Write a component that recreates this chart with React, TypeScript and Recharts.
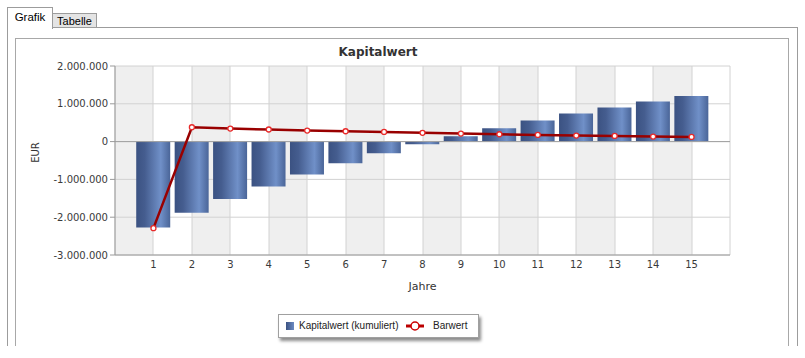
import { ComposedChart, Bar, Line, XAxis, YAxis, CartesianGrid, ReferenceLine } from 'recharts';

const years = [1, 2, 3, 4, 5, 6, 7, 8, 9, 10, 11, 12, 13, 14, 15];
const kapitalwertKumuliert = [
  -2270000, -1880000, -1520000, -1190000, -870000, -575000, -310000, -70000,
  140000, 355000, 557000, 745000, 903000, 1062000, 1205000,
];
const barwert = [
  -2290000, 380000, 345000, 320000, 292000, 274000, 257000, 232000,
  212000, 195000, 177000, 160000, 150000, 133000, 124000,
];
const yTicks = [-3000000, -2000000, -1000000, 0, 1000000, 2000000];
const xDomain = [0, 16];
const gridStops = [0, 1, 2, 3, 4, 5, 6, 7, 8, 9, 10, 11, 12, 13, 14, 15, 16];

const chartData = years.map((year, i) => ({
  year,
  kum: kapitalwertKumuliert[i],
  barwert: barwert[i],
}));

const fmt = (v: number) => {
  const s = Math.abs(v).toString().replace(/\B(?=(\d{3})+(?!\d))/g, '.');
  return v < 0 ? '-' + s : s;
};

const tickFont = { fontFamily: 'DejaVu Sans', fontSize: 10, fill: '#3a3a3a' };

function verticalGrid({ xAxis, offset }: any) {
  const s = xAxis && xAxis.scale;
  return gridStops.map((k) =>
    typeof s === 'function' ? Math.round(s(k)) : Math.round(offset.left + (offset.width * k) / 16)
  );
}

function EurLabel(props: any) {
  const vb = props.viewBox || {};
  const x = vb.x + 20;
  const y = vb.y + vb.height / 2 - 8;
  return (
    <text
      x={x}
      y={y}
      transform={`rotate(-90, ${x}, ${y})`}
      textAnchor="middle"
      dominantBaseline="central"
      style={{ fontFamily: 'DejaVu Sans', fontSize: 10, fill: '#333' }}
    >
      EUR
    </text>
  );
}

function BarwertDot(props: any) {
  const { cx, cy } = props;
  if (cx == null || cy == null) return null;
  return <circle cx={cx} cy={cy} r={2.5} fill="#fff" stroke="#e82a2a" strokeWidth={1.3} />;
}

export default function App() {
  return (
    <div
      style={{
        position: 'absolute',
        left: 0,
        top: 0,
        width: 805,
        height: 358,
        background: '#fff',
        overflow: 'hidden',
        fontFamily: 'Liberation Sans',
      }}
    >
      {/* tab panel */}
      <div
        style={{
          position: 'absolute',
          left: 7,
          top: 27,
          width: 789,
          height: 318,
          borderTop: '1px solid #9c9c9c',
          borderLeft: '1px solid #9c9c9c',
          borderRight: '1px solid #9c9c9c',
        }}
      />
      <div
        style={{
          position: 'absolute',
          left: 7,
          top: 7,
          width: 44,
          height: 21,
          background: '#fff',
          borderTop: '1px solid #9c9c9c',
          borderLeft: '1px solid #9c9c9c',
          borderRight: '1px solid #9c9c9c',
          fontSize: 11.5,
          color: '#000',
          lineHeight: '19px',
          textAlign: 'center',
          zIndex: 2,
        }}
      >
        Grafik
      </div>
      <div
        style={{
          position: 'absolute',
          left: 52,
          top: 13,
          width: 43,
          height: 13,
          background: '#e4e4e4',
          border: '1px solid #9c9c9c',
          borderBottom: 'none',
          fontSize: 11,
          color: '#000',
          lineHeight: '15px',
          textAlign: 'center',
        }}
      >
        Tabelle
      </div>
      <div
        style={{
          position: 'absolute',
          left: 15,
          top: 38,
          width: 772,
          height: 307,
          borderTop: '1px solid #a8a8a8',
          borderLeft: '1px solid #a8a8a8',
          borderRight: '1px solid #a8a8a8',
        }}
      />

      <div
        style={{
          position: 'absolute',
          left: 300,
          top: 45,
          width: 156,
          textAlign: 'center',
          fontFamily: 'DejaVu Sans',
          fontWeight: 'bold',
          fontSize: 12,
          color: '#333',
        }}
      >
        Kapitalwert
      </div>

      <div style={{ position: 'absolute', left: 15, top: 38 }}>
        <ComposedChart
          width={773}
          height={307}
          data={chartData}
          margin={{ top: 28, right: 58, bottom: 0, left: 0 }}
        >
          <defs>
            <linearGradient id="barGrad" x1="0" y1="0" x2="1" y2="0">
              <stop offset="0%" stopColor="#3b5282" />
              <stop offset="25%" stopColor="#455d8f" />
              <stop offset="72%" stopColor="#7090c8" />
              <stop offset="100%" stopColor="#4a6598" />
            </linearGradient>
          </defs>
          <CartesianGrid
            stroke="#d2d2d2"
            verticalFill={['#efefef', '#ffffff']}
            verticalCoordinatesGenerator={verticalGrid}
          />
          <XAxis
            type="number"
            dataKey="year"
            domain={xDomain}
            ticks={years}
            interval={0}
            height={90}
            tickLine={false}
            tickSize={0}
            tickMargin={6}
            axisLine={{ stroke: '#9a9a9a' }}
            tick={tickFont}
            label={{
              value: 'Jahre',
              position: 'insideTop',
              offset: 27,
              style: { fontFamily: 'DejaVu Sans', fontSize: 11, fill: '#333' },
            }}
          />
          <YAxis
            type="number"
            domain={[-3000000, 2000000]}
            ticks={yTicks}
            interval={0}
            width={100}
            tickFormatter={fmt}
            tickSize={5}
            tickMargin={2}
            tickLine={{ stroke: '#9a9a9a' }}
            axisLine={{ stroke: '#9a9a9a' }}
            tick={tickFont}
            label={<EurLabel />}
          />
          <ReferenceLine y={0} stroke="#a0a0a0" />
          <Bar dataKey="kum" barSize={34} fill="url(#barGrad)" isAnimationActive={false} />
          <Line
            dataKey="barwert"
            type="linear"
            stroke="#990000"
            strokeWidth={2.5}
            dot={<BarwertDot />}
            activeDot={false}
            isAnimationActive={false}
          />
        </ComposedChart>
      </div>

      {/* legend */}
      <div
        style={{
          position: 'absolute',
          left: 278,
          top: 314,
          width: 199,
          height: 22,
          background: '#fff',
          border: '1px solid #a0a0a0',
          boxShadow: '2px 3px 3px rgba(0,0,0,0.45)',
          fontSize: 10,
          color: '#222',
        }}
      >
        <div
          style={{
            position: 'absolute',
            left: 7,
            top: 7,
            width: 8,
            height: 8,
            background: 'linear-gradient(to right, #3b5282, #6b8ac2)',
          }}
        />
        <div style={{ position: 'absolute', left: 20, top: 5, whiteSpace: 'nowrap' }}>
          Kapitalwert (kumuliert)
        </div>
        <svg style={{ position: 'absolute', left: 126, top: 4 }} width={20} height={14}>
          <line x1={1} y1={7} x2={19} y2={7} stroke="#bb0000" strokeWidth={3} />
          <circle cx={10} cy={7} r={4} fill="#fff" stroke="#cc0000" strokeWidth={1.5} />
        </svg>
        <div style={{ position: 'absolute', left: 154, top: 5, whiteSpace: 'nowrap' }}>Barwert</div>
      </div>
    </div>
  );
}
